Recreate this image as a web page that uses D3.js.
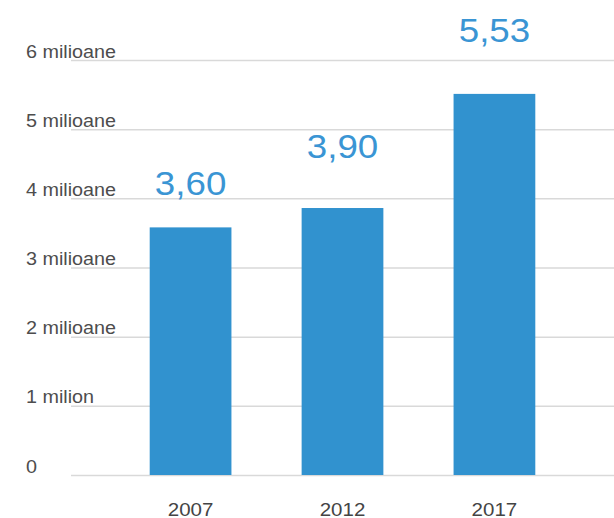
<!DOCTYPE html>
<html>
<head>
<meta charset="utf-8">
<script src="https://cdn.jsdelivr.net/npm/d3@7"></script>
<style>
  html, body { margin: 0; padding: 0; background: #fff; }
  svg { display: block; font-family: "Liberation Sans", Arial, Helvetica, sans-serif; }
</style>
</head>
<body>
<svg id="chart" width="614" height="518"></svg>
<script>
// ---- data ----
const years = ["2007", "2012", "2017"];
const values = [3.58, 3.86, 5.51];            // bar heights, millions (as drawn)
const valueLabels = ["3,60", "3,90", "5,53"]; // printed labels
const yTicks = [0, 1, 2, 3, 4, 5, 6];
const yTickLabels = ["0", "1 milion", "2 milioane", "3 milioane", "4 milioane", "5 milioane", "6 milioane"];

// ---- layout ----
const plotLeft = 71, plotRight = 614, plotTop = 60, plotBottom = 475;
const labelLift = [32, 50, 52];
const stretch = 1.13;
const barColor = "#3192cf";
const labelColor = "#3a95d4";

const svg = d3.select("#chart");

const x = d3.scaleBand().domain(years).range([plotLeft, plotRight])
  .paddingInner(0.462).paddingOuter(0.518);
const y = d3.scaleLinear().domain([0, 6]).range([plotBottom, plotTop]);

// gridlines + y labels
const gy = svg.append("g").attr("transform", `translate(${plotLeft},0)`)
  .call(d3.axisRight(y).tickValues(yTicks)
    .tickFormat((d, i) => yTickLabels[i]).tickSize(plotRight - plotLeft));
gy.select(".domain").remove();
gy.selectAll(".tick line").attr("stroke", "#d9d9d9").attr("stroke-width", 1.5);
gy.selectAll(".tick text")
  .attr("x", null).attr("dy", null).attr("y", null)
  .attr("text-anchor", "start")
  .attr("transform", `translate(${26 - plotLeft},-3) scale(${stretch},1)`)
  .attr("fill", "#4d4d4d")
  .style("font-size", "17.5px")
  .style("font-family", "'Liberation Sans', Arial, sans-serif");

// bars
svg.append("g").selectAll("rect").data(years).join("rect")
  .attr("x", d => x(d))
  .attr("width", x.bandwidth())
  .attr("y", (d, i) => y(values[i]))
  .attr("height", (d, i) => y(0) - y(values[i]))
  .attr("fill", barColor);

// value labels
svg.append("g").selectAll("text").data(years).join("text")
  .attr("transform", (d, i) => `translate(${x(d) + x.bandwidth() / 2},${y(values[i]) - labelLift[i]}) scale(${stretch},1)`)
  .attr("text-anchor", "middle")
  .attr("fill", labelColor)
  .style("font-size", "32.5px")
  .text((d, i) => valueLabels[i]);

// x axis labels
const gx = svg.append("g").attr("transform", `translate(0,${plotBottom})`)
  .call(d3.axisBottom(x).tickSize(0));
gx.select(".domain").remove();
gx.selectAll(".tick text")
  .attr("y", 41).attr("dy", null)
  .attr("transform", `scale(1.08,1)`)
  .attr("fill", "#444")
  .style("font-size", "19px")
  .style("font-family", "'Liberation Sans', Arial, sans-serif");
</script>
</body>
</html>
